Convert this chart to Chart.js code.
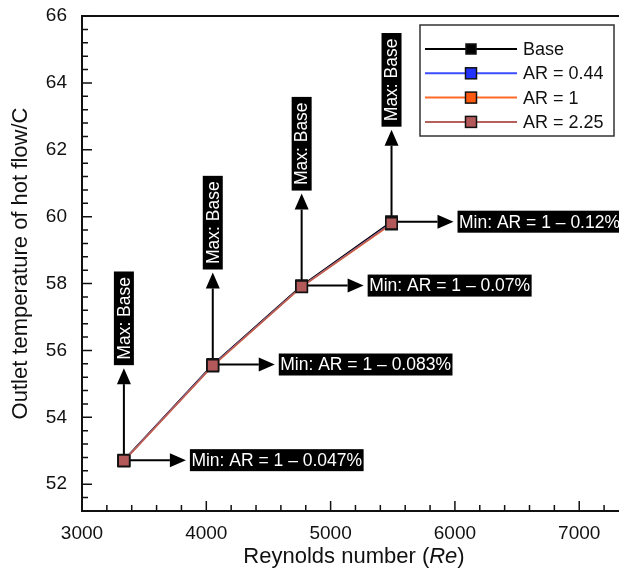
<!DOCTYPE html>
<html>
<head>
<meta charset="utf-8">
<script src="https://cdn.jsdelivr.net/npm/chart.js@4.4.0/dist/chart.umd.min.js"></script>
<style>
body{margin:0;background:#fff;}
#wrap{width:619px;height:571px;}
</style>
</head>
<body>
<div id="wrap"><canvas id="myChart" width="619" height="571"></canvas></div>
<script>
// Reynolds numbers and outlet temperatures
const reynolds = [3337, 4052, 4767, 5490];
const tempBase = [52.72, 55.58, 57.94, 59.85];
const tempAR044 = [52.706, 55.553, 57.912, 59.804];
const tempAR1 = [52.695, 55.535, 57.90, 59.78];
const tempAR225 = [52.705, 55.55, 57.91, 59.80];

const maxLabels = ['Max: Base', 'Max: Base', 'Max: Base', 'Max: Base'];
const minLabels = ['Min: AR = 1 \u2013 0.047%', 'Min: AR = 1 \u2013 0.083%', 'Min: AR = 1 \u2013 0.07%', 'Min: AR = 1 \u2013 0.12%'];

const xTicks = [3000, 4000, 5000, 6000, 7000];
const yTicks = [52, 54, 56, 58, 60, 62, 64, 66];

const FONT = '"Liberation Sans", Arial, Helvetica, sans-serif';

const toPoints = (ys) => reynolds.map((x, i) => ({x: x, y: ys[i]}));

const drawArrow = (ctx, x1, y1, x2, y2) => {
    const ang = Math.atan2(y2 - y1, x2 - x1);
    const head = 16, half = 7;
    const bx = x2 - head * Math.cos(ang), by = y2 - head * Math.sin(ang);
    ctx.beginPath();
    ctx.moveTo(x1, y1);
    ctx.lineTo(bx, by);
    ctx.stroke();
    ctx.beginPath();
    ctx.moveTo(x2, y2);
    ctx.lineTo(bx + half * Math.sin(ang), by - half * Math.cos(ang));
    ctx.lineTo(bx - half * Math.sin(ang), by + half * Math.cos(ang));
    ctx.closePath();
    ctx.fill();
}

// arrows + black label boxes next to each point
const annotations = {
    id: 'annotations',
    beforeDatasetsDraw(chart) {
        const ctx = chart.ctx;
        const xs = chart.scales.x, ys = chart.scales.y;
        ctx.save();
        ctx.strokeStyle = '#000';
        ctx.fillStyle = '#000';
        ctx.lineWidth = 2;
        for (let i = 0; i < reynolds.length; i++) {
            const px = xs.getPixelForValue(reynolds[i]);
            const py = ys.getPixelForValue(tempBase[i]);
            drawArrow(ctx, px, py, px, py - 92);
            drawArrow(ctx, px, py, px + 62, py);
        }
        ctx.restore();
    },
    afterDatasetsDraw(chart) {
        const ctx = chart.ctx;
        const xs = chart.scales.x, ys = chart.scales.y;
        ctx.save();
        ctx.font = '17.5px ' + FONT;
        ctx.textBaseline = 'middle';
        for (let i = 0; i < reynolds.length; i++) {
            const px = xs.getPixelForValue(reynolds[i]);
            const py = ys.getPixelForValue(tempBase[i]);
            // vertical "Max" label
            let w = ctx.measureText(maxLabels[i]).width;
            ctx.save();
            ctx.translate(px, py - 95);
            ctx.rotate(-Math.PI / 2);
            ctx.fillStyle = '#000';
            ctx.fillRect(0, -10, w + 11, 20);
            ctx.fillStyle = '#fff';
            ctx.textAlign = 'left';
            ctx.fillText(maxLabels[i], 5.5, 1);
            ctx.restore();
            // horizontal "Min" label
            w = ctx.measureText(minLabels[i]).width;
            const lx = px + 66;
            ctx.fillStyle = '#000';
            ctx.fillRect(lx, py - 11, w + 3, 22);
            ctx.fillStyle = '#fff';
            ctx.textAlign = 'left';
            ctx.fillText(minLabels[i], lx + 1.5, py + 1);
        }
        ctx.restore();
    }
};

// frame, inward ticks, axis titles and boxed legend
const frame = {
    id: 'frame',
    afterDraw(chart) {
        const ctx = chart.ctx;
        const a = chart.chartArea;
        const xs = chart.scales.x, ys = chart.scales.y;
        ctx.save();
        ctx.strokeStyle = '#111';
        ctx.lineWidth = 2;
        ctx.beginPath();
        ctx.moveTo(chart.width, a.top);
        ctx.lineTo(a.left, a.top);
        ctx.lineTo(a.left, a.bottom);
        ctx.lineTo(chart.width, a.bottom);
        ctx.stroke();

        ctx.lineWidth = 1.5;
        ctx.beginPath();
        xTicks.forEach(v => {
            const x = xs.getPixelForValue(v);
            ctx.moveTo(x, a.bottom); ctx.lineTo(x, a.bottom - 10);
            for (let k = 1; k < 5; k++) {
                const m = v + k * 200;
                if (m > xs.max) break;
                const mx = xs.getPixelForValue(m);
                ctx.moveTo(mx, a.bottom); ctx.lineTo(mx, a.bottom - 6);
            }
        });
        yTicks.forEach(v => {
            const y = ys.getPixelForValue(v);
            ctx.moveTo(a.left, y); ctx.lineTo(a.left + 10, y);
            for (let k = 1; k < 5; k++) {
                const m = v - k * 0.4;
                if (m < ys.min - 0.001) break;
                const my = ys.getPixelForValue(m);
                ctx.moveTo(a.left, my); ctx.lineTo(a.left + 6, my);
            }
        });
        ctx.stroke();

        // axis titles
        ctx.fillStyle = '#111';
        ctx.textBaseline = 'middle';
        const tf = '22px ' + FONT;
        ctx.font = tf;
        const t1 = 'Reynolds number (', t2 = 'Re', t3 = ')';
        const w1 = ctx.measureText(t1).width, w3 = ctx.measureText(t3).width;
        ctx.font = 'italic ' + tf;
        const w2 = ctx.measureText(t2).width;
        let x0 = 354 - (w1 + w2 + w3) / 2;
        ctx.textAlign = 'left';
        ctx.font = tf;
        ctx.fillText(t1, x0, 557);
        ctx.font = 'italic ' + tf;
        ctx.fillText(t2, x0 + w1, 557);
        ctx.font = tf;
        ctx.fillText(t3, x0 + w1 + w2, 557);

        ctx.save();
        ctx.translate(21, (a.top + a.bottom) / 2);
        ctx.rotate(-Math.PI / 2);
        ctx.textAlign = 'center';
        ctx.fillText('Outlet temperature of hot flow/C', 0, 0);
        ctx.restore();

        // legend
        ctx.fillStyle = '#fff';
        ctx.fillRect(420, 25, 194, 111);
        ctx.strokeStyle = '#333';
        ctx.lineWidth = 1.5;
        ctx.strokeRect(420, 25, 194, 111);
        ctx.font = '18px ' + FONT;
        ctx.textAlign = 'left';
        chart.data.datasets.forEach((ds, i) => {
            const y = 49 + i * 24.3;
            ctx.strokeStyle = ds.borderColor;
            ctx.lineWidth = 2;
            ctx.beginPath();
            ctx.moveTo(425, y); ctx.lineTo(517, y);
            ctx.stroke();
            const s = i === 0 ? 10 : 11;
            ctx.fillStyle = ds.pointBackgroundColor;
            ctx.fillRect(471 - s / 2, y - s / 2, s, s);
            ctx.strokeStyle = ds.pointBorderColor;
            ctx.lineWidth = 1.5;
            ctx.strokeRect(471 - s / 2, y - s / 2, s, s);
            ctx.fillStyle = '#111';
            ctx.fillText(ds.label, 523, y + 1);
        });
        ctx.restore();
    }
};

const makeSet = (label, data, line, fill, order) => ({
    label: label,
    data: toPoints(data),
    borderColor: line,
    borderWidth: 1.6,
    pointStyle: 'rect',
    pointRadius: 8,
    pointBackgroundColor: fill,
    pointBorderColor: '#111',
    pointBorderWidth: 1.5,
    order: order
});

const ctx = document.getElementById('myChart').getContext('2d');
const myChart = new Chart(ctx, {
    type: 'line',
    data: {
        datasets: [
            makeSet('Base', tempBase, '#000000', '#000000', 3),
            makeSet('AR = 0.44', tempAR044, '#3a4dff', '#2233ff', 2),
            makeSet('AR = 1', tempAR1, '#ff6a2a', '#ff5a10', 1),
            makeSet('AR = 2.25', tempAR225, '#b4605c', '#b4595a', 0)
        ]
    },
    options: {
        responsive: false,
        animation: false,
        devicePixelRatio: 1,
        layout: {autoPadding: false, padding: {top: 16, right: 0, left: 0, bottom: 0}},
        plugins: {legend: {display: false}, tooltip: {enabled: false}},
        scales: {
            x: {
                type: 'linear',
                min: 3000,
                max: 7320,
                grid: {display: false},
                border: {display: false},
                afterBuildTicks: (s) => { s.ticks = xTicks.map(v => ({value: v})); },
                afterFit: (s) => { s.height = 60; s.paddingLeft = 0; s.paddingRight = 0; },
                ticks: {color: '#111', font: {family: FONT, size: 19}, padding: 3, maxRotation: 0, autoSkip: false,
                        callback: (v) => String(v)}
            },
            y: {
                min: 51.2,
                max: 66,
                grid: {display: false},
                border: {display: false},
                afterBuildTicks: (s) => { s.ticks = yTicks.map(v => ({value: v})); },
                afterFit: (s) => { s.width = 82; s.paddingTop = 0; s.paddingBottom = 0; },
                ticks: {color: '#111', font: {family: FONT, size: 19}, padding: 7, callback: (v) => String(v)}
            }
        }
    },
    plugins: [annotations, frame]
});
</script>
</body>
</html>
